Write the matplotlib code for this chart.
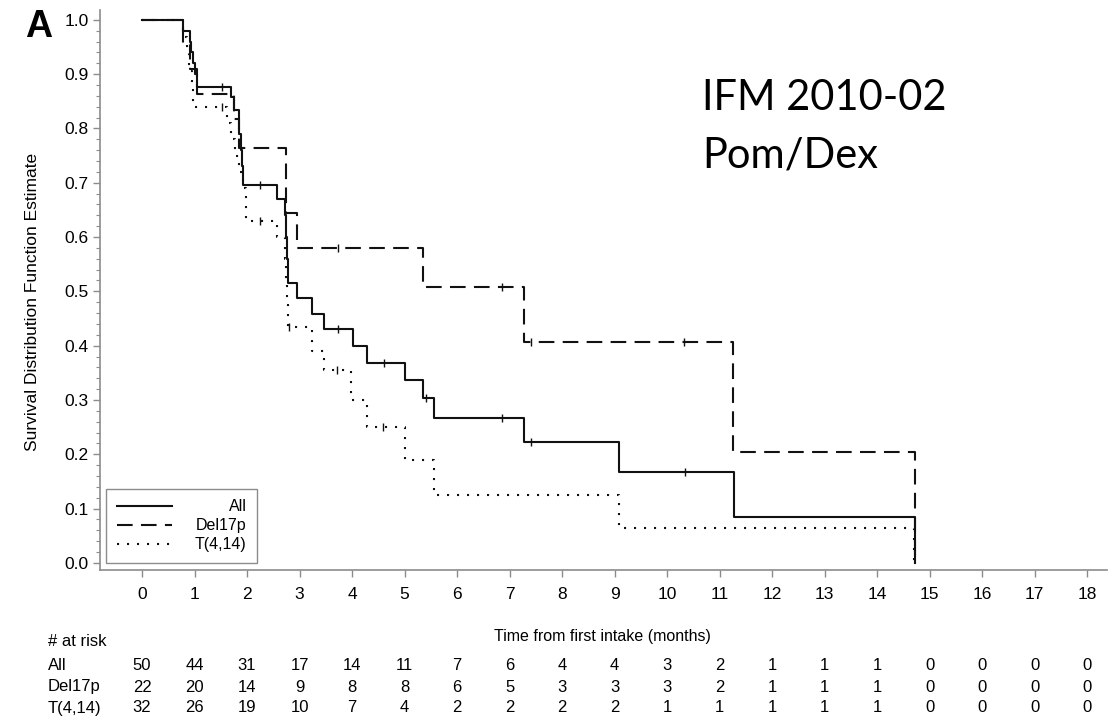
import numpy as np
import matplotlib.pyplot as plt
from matplotlib.ticker import MultipleLocator
from matplotlib.transforms import blended_transform_factory

plt.rcParams['font.family'] = ['Liberation Sans', 'DejaVu Sans']

# Kaplan-Meier step data (time in months, survival estimate)
all_t = [0, 0.78, 0.91, 0.94, 0.97, 1.0, 1.05, 1.69, 1.75, 1.85, 1.88, 1.9, 1.92,
         2.57, 2.72, 2.75, 2.77, 2.79, 2.95, 3.23, 3.46, 4.02, 4.28, 5.0, 5.35,
         5.56, 7.27, 9.08, 11.27, 14.73]
all_s = [1.0, 0.98, 0.96, 0.94, 0.92, 0.90, 0.877, 0.857, 0.833, 0.79, 0.76, 0.73, 0.695,
         0.67, 0.64, 0.60, 0.56, 0.516, 0.488, 0.459, 0.431, 0.40, 0.369, 0.336, 0.303,
         0.266, 0.222, 0.167, 0.084, 0.0]
all_cens = [1.52, 2.25, 3.73, 4.6, 5.4, 6.85, 7.4, 10.35]

del_t = [0, 0.78, 0.91, 1.05, 1.75, 1.85, 2.74, 2.95, 5.35, 7.27, 11.25, 14.73]
del_s = [1.0, 0.955, 0.909, 0.864, 0.818, 0.764, 0.644, 0.58, 0.508, 0.407, 0.205, 0.0]
del_cens = [3.73, 6.85, 7.4, 10.33]

t414_t = [0, 0.78, 0.85, 0.9, 0.95, 0.97, 1.62, 1.7, 1.78, 1.85, 1.92, 1.98, 2.57,
          2.72, 2.74, 2.76, 2.78, 3.23, 3.46, 3.99, 4.28, 5.0, 5.56, 9.08, 14.71]
t414_s = [1.0, 0.969, 0.938, 0.906, 0.875, 0.84, 0.81, 0.78, 0.75, 0.72, 0.69, 0.63, 0.60,
          0.56, 0.52, 0.48, 0.435, 0.39, 0.356, 0.30, 0.25, 0.19, 0.125, 0.064, 0.0]
t414_cens = [1.52, 2.25, 2.8, 3.72, 4.59]

# numbers at risk
risk_times = list(range(19))
risk_all = [50, 44, 31, 17, 14, 11, 7, 6, 4, 4, 3, 2, 1, 1, 1, 0, 0, 0, 0]
risk_del = [22, 20, 14, 9, 8, 8, 6, 5, 3, 3, 3, 2, 1, 1, 1, 0, 0, 0, 0]
risk_t414 = [32, 26, 19, 10, 7, 4, 2, 2, 2, 2, 1, 1, 1, 1, 1, 0, 0, 0, 0]

W, H = 1117, 719
fig = plt.figure(figsize=(W / 100, H / 100), dpi=100)
ax = fig.add_axes([100 / W, 1 - 570 / H, 1007 / W, 560 / H])

ink = '#111111'
grey = '#8c8c8c'


def step_at(times, surv, x):
    idx = np.searchsorted(times, x, side='right') - 1
    return np.asarray(surv)[idx]


series = [
    ('All', all_t, all_s, all_cens, '-'),
    ('Del17p', del_t, del_s, del_cens, (0, (7.5, 4))),
    ('T(4,14)', t414_t, t414_s, t414_cens, (0, (1, 3.8))),
]
for name, t, s, cens, ls in series:
    ax.step(t, s, where='post', color=ink, lw=1.5, ls=ls, label=name)
    ax.plot(cens, step_at(t, s, cens), ls='none', marker='|', ms=6,
            mew=1.0, color=ink)

ax.set_xlim(-0.8, 18.38)
ax.set_ylim(-0.013, 1.018)
ax.set_xticks(risk_times)
ax.yaxis.set_major_locator(MultipleLocator(0.1))
ax.yaxis.set_minor_locator(MultipleLocator(0.02))
ax.yaxis.set_major_formatter(plt.FormatStrFormatter('%.1f'))

for side in ['top', 'right']:
    ax.spines[side].set_visible(False)
for side in ['left', 'bottom']:
    ax.spines[side].set_color(grey)
    ax.spines[side].set_linewidth(1.2)

ax.tick_params(axis='x', direction='out', length=5, width=1, color=grey,
               pad=7.5, labelsize=12.5)
ax.tick_params(axis='y', which='major', direction='out', length=5, width=1,
               color=grey, pad=3, labelsize=12.5)
ax.tick_params(axis='y', which='minor', direction='out', length=3, width=0.8,
               color=grey)

leg = ax.legend(loc='lower left', bbox_to_anchor=(0.006, 0.0125),
                borderaxespad=0, fancybox=False, framealpha=1,
                edgecolor=grey, handlelength=3.44, handletextpad=1.44,
                fontsize=11.5, labelspacing=0.25, borderpad=0.67)
leg.get_frame().set_linewidth(1.0)

# labels inside the legend are right-aligned in the original
fig.canvas.draw()
rend = fig.canvas.get_renderer()
leg_texts = leg.get_texts()
extents = [t.get_window_extent(rend) for t in leg_texts]
right_px = max(e.x1 for e in extents)
for t, e in zip(leg_texts, extents):
    t.set_alpha(0)
    fig.text(right_px / W, (e.y0 + e.y1) / 2 / H, t.get_text(), ha='right',
             va='center', fontsize=11.5)

fig.text(33 / W, 1 - 302 / H, 'Survival Distribution Function Estimate',
         rotation=90, ha='center', va='center', fontsize=12.5)
fig.text(602 / W, 1 - 636 / H, 'Time from first intake (months)',
         ha='center', va='center', fontsize=11.5)

fig.text(25 / W, 1 - 37 / H, 'A', fontsize=27, fontweight='bold',
         ha='left', va='baseline')

fig.text(702 / W, 1 - 110 / H, 'IFM 2010-02', fontsize=30, family='Lato',
         ha='left', va='baseline')
fig.text(702 / W, 1 - 168 / H, 'Pom/Dex', fontsize=30, family='Lato',
         ha='left', va='baseline')

# at-risk table
trans = blended_transform_factory(ax.transData, fig.transFigure)
fig.text(48 / W, 1 - 642 / H, '# at risk', ha='left', va='center', fontsize=12)
rows = [('All', risk_all, 665), ('Del17p', risk_del, 687), ('T(4,14)', risk_t414, 708)]
for label, counts, ypx in rows:
    fig.text(48 / W, 1 - ypx / H, label, ha='left', va='center', fontsize=12)
    for x, n in zip(risk_times, counts):
        ax.text(x, 1 - ypx / H, str(n), transform=trans, ha='center',
                va='center', fontsize=12, clip_on=False)

fig.savefig('out.png', dpi=100)
